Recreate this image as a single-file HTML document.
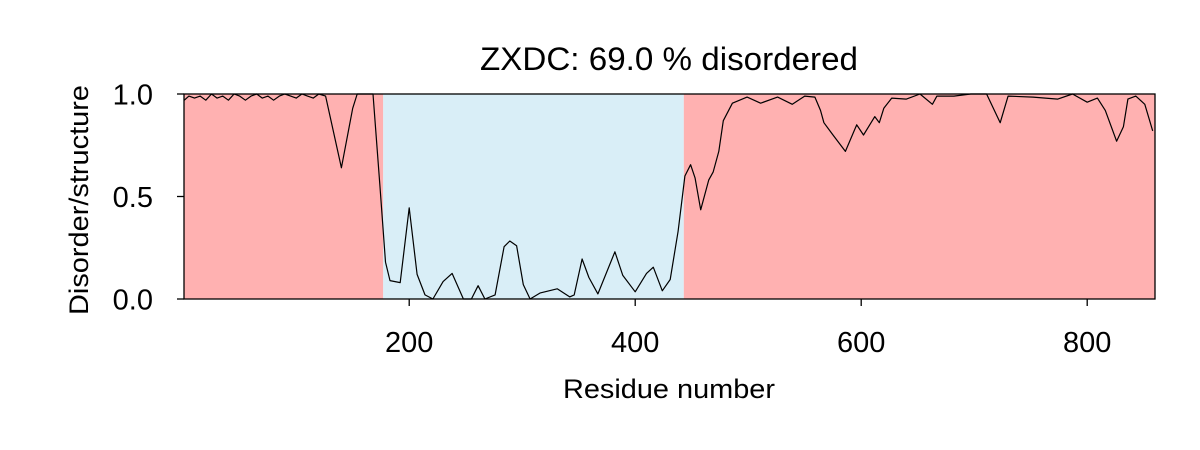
<!DOCTYPE html>
<html><head><meta charset="utf-8"><style>
body{margin:0;background:#fff;}
svg{display:block;font-family:"Liberation Sans",Arial,sans-serif;}
</style></head><body>
<svg id="chart" width="1200" height="450"></svg>
<script>
const residues=[1,5,10,15,20,25,30,35,40,45,50,55,60,65,70,75,80,85,90,95,100,105,110,115,120,126,140,150,154,160,168,174,179,183,192,200,207,214,221,230,238,248,255,261,267,276,284,289,295,301,307,316,331,342,346,353,359,367,382,389,400,410,416,424,431,438,444,449,453,458,465,469,474,478,486,499,511,526,539,550,559,564,567,575,586,596,602,612,616,620,627,640,652,663,667,682,697,711,723,730,752,774,787,800,809,816,826,832,836,843,851,858];
const scores=[0.97,0.99,0.98,0.99,0.97,1.0,0.98,0.99,0.97,1.0,0.99,0.97,0.99,1.0,0.98,0.99,0.97,0.99,1.0,0.99,0.98,1.0,0.99,0.98,1.0,0.99,0.64,0.93,1.0,1.0,1.0,0.56,0.18,0.09,0.08,0.445,0.12,0.02,0.0,0.085,0.125,0.0,0.0,0.065,0.0,0.02,0.255,0.283,0.26,0.07,0.0,0.03,0.05,0.01,0.02,0.195,0.105,0.025,0.23,0.115,0.035,0.125,0.155,0.04,0.095,0.33,0.6,0.655,0.59,0.435,0.58,0.62,0.72,0.87,0.955,0.985,0.955,0.985,0.95,0.99,0.985,0.92,0.86,0.8,0.72,0.85,0.8,0.89,0.86,0.93,0.98,0.975,1.0,0.95,0.99,0.99,1.0,1.0,0.86,0.99,0.985,0.975,1.0,0.96,0.98,0.92,0.77,0.84,0.975,0.99,0.95,0.82];
const regionStarts=[1,177,443];
const regionEnds=[177,443,860];
const regionTypes=["disordered","structured","disordered"];
const xTicks=[200,400,600,800];
const yTicks=[0.0,0.5,1.0];

const L=184,R=1155,T=94,B=299;
const X0=0.7,X1=860;
const sx=v=>L+(v-X0)/(X1-X0)*(R-L);
const sy=v=>B-v*(B-T);
const NS="http://www.w3.org/2000/svg";
const svg=document.getElementById('chart');
function mk(tag,attrs,text){const e=document.createElementNS(NS,tag);for(const k in attrs)e.setAttribute(k,attrs[k]);if(text!==undefined)e.textContent=text;svg.appendChild(e);return e;}

regionStarts.forEach((s,i)=>{
  const r=mk('rect',{x:sx(s),y:T,width:sx(regionEnds[i])-sx(s),height:B-T,fill:regionTypes[i]==="disordered"?"#ffb1b1":"#d9eef7"});
  
  
});
const pts=residues.map((r,i)=>sx(r).toFixed(1)+','+sy(scores[i]).toFixed(1)).join(' ');
const line=mk('polyline',{points:pts,fill:'none',stroke:'#000','stroke-width':1.2,'stroke-linejoin':'round'});


const frame=mk('rect',{x:L,y:T,width:R-L,height:B-T,fill:'none',stroke:'#000','stroke-width':1.3});


xTicks.forEach(t=>{
  const tk=mk('line',{x1:sx(t),x2:sx(t),y1:B,y2:B+7,stroke:'#000','stroke-width':1.3});
  
  
  const lb=mk('text',{x:sx(t),y:352,'text-anchor':'middle','font-size':29},String(t));
  
  
});
yTicks.forEach(t=>{
  const tk=mk('line',{x1:L-7,x2:L,y1:sy(t),y2:sy(t),stroke:'#000','stroke-width':1.3});
  
  
  const lb=mk('text',{x:153,y:sy(t)+10.5,'text-anchor':'end','font-size':29},t.toFixed(1));
  
  
});
const title=mk('text',{x:669,y:70,'text-anchor':'middle','font-size':32,textLength:378,lengthAdjust:'spacingAndGlyphs'},'ZXDC: 69.0 % disordered');


const xt=mk('text',{x:669,y:398,'text-anchor':'middle','font-size':27,textLength:212,lengthAdjust:'spacingAndGlyphs'},'Residue number');


const yt=mk('text',{x:0,y:0,'text-anchor':'middle','font-size':27,textLength:230,lengthAdjust:'spacingAndGlyphs',transform:'translate(88,200) rotate(-90)'},'Disorder/structure');


</script>
</body></html>
